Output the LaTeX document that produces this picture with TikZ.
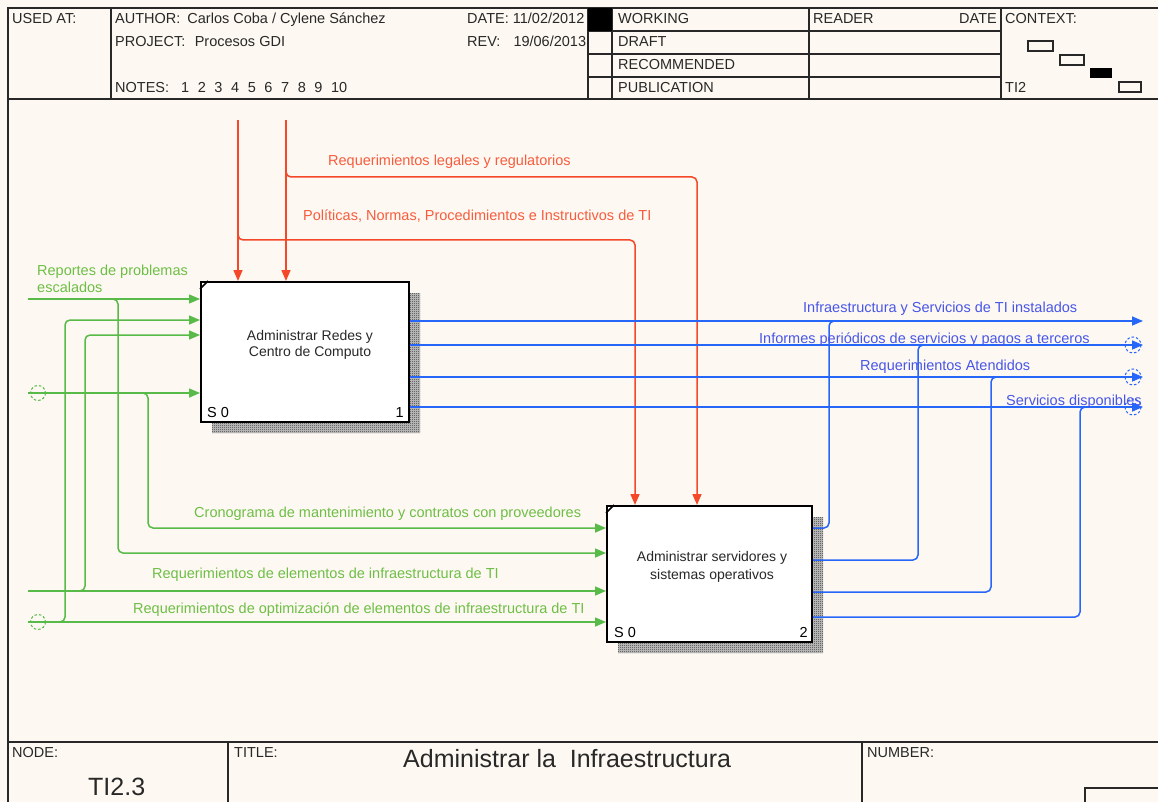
\documentclass[tikz,border=0pt]{standalone}
\usepackage{fontspec}
\setmainfont{Liberation Sans}
\usetikzlibrary{arrows.meta,patterns}

% fine checkerboard used for the activity-box shadows
\pgfdeclarepatternformonly{checker}{\pgfqpoint{0pt}{0pt}}{\pgfqpoint{2pt}{2pt}}{\pgfqpoint{2pt}{2pt}}{%
  \pgfpathrectangle{\pgfqpoint{0pt}{0pt}}{\pgfqpoint{1pt}{1pt}}%
  \pgfpathrectangle{\pgfqpoint{1pt}{1pt}}{\pgfqpoint{1pt}{1pt}}%
  \pgfusepath{fill}}

\definecolor{paper}{RGB}{253,249,242}
\definecolor{ink}{RGB}{40,40,40}
\definecolor{redline}{RGB}{244,72,40}
\definecolor{redtext}{RGB}{248,92,62}
\definecolor{greenline}{RGB}{88,186,72}
\definecolor{greentext}{RGB}{110,190,70}
\definecolor{blueline}{RGB}{38,102,248}
\definecolor{bluetext}{RGB}{72,86,232}

\newcommand\ngap{\hspace{8.6pt}}

\begin{document}
\begin{tikzpicture}[x=1pt,y=-1pt,
  font=\fontsize{14.5}{16}\selectfont,
  frame/.style={draw=ink,line width=1.4pt},
  thin frame/.style={draw=ink,line width=1.2pt},
  lbl/.style={anchor=base west,inner sep=0pt,text=ink},
  activity/.style={draw=black,line width=2pt,fill=white,inner sep=0pt},
  shadowbase/.style={fill=black!22},
  shadowfill/.style={pattern=checker,pattern color=black!80},
  arrowed/.style={-{Triangle[length=11pt,width=9pt]}},
  ctrl/.style={draw=redline,line width=1.5pt,rounded corners=5pt},
  inp/.style={draw=greenline,line width=1.5pt,rounded corners=5pt},
  outp/.style={draw=blueline,line width=1.5pt,rounded corners=5pt},
  tunnel/.style={dash pattern=on 2.5pt off 2pt,line width=1pt},
  redlbl/.style={lbl,text=redtext},
  greenlbl/.style={lbl,text=greentext},
  bluelbl/.style={lbl,text=bluetext}]

\useasboundingbox (0,0) rectangle (1158,802);
\fill[paper] (0,0) rectangle (1158,802);

% ---------- sheet frame and header ----------
\draw[frame] (8,802) -- (8,8) -- (1158,8);
\draw[frame] (8,99) -- (1158,99);
\draw[frame] (8,742) -- (1158,742);
\foreach \xx in {111,588,612,809,1001} \draw[frame] (\xx,8) -- (\xx,99);
\foreach \yy in {31,54,77} \draw[thin frame] (588,\yy) -- (1001,\yy);
\fill[black] (588,8) rectangle (612,31);

\node[lbl] (usedat) at (12,24) {USED AT:};
\node[lbl] (author) at (115,24) {AUTHOR:\hspace{7pt}Carlos Coba / Cylene Sánchez};
\node[lbl] (project) at (115,47) {PROJECT:\hspace{9.5pt}Procesos GDI};
\node[lbl] (notes) at (115,93) {NOTES:\hspace{12pt}1\ngap2\ngap3\ngap4\ngap5\ngap6\ngap7\ngap8\ngap9\ngap10};
\node[lbl] (date) at (467,24) {DATE: 11/02/2012};
\node[lbl] (rev) at (467,47) {REV:\hspace{13pt}19/06/2013};
\node[lbl] (working) at (618,24) {WORKING};
\node[lbl] (draft) at (618,47) {DRAFT};
\node[lbl] (recom) at (618,70) {RECOMMENDED};
\node[lbl] (publ) at (618,93) {PUBLICATION};
\node[lbl] (reader) at (813,24) {READER};
\node[lbl,anchor=base east] (rdate) at (997,24) {DATE};
\node[lbl] (context) at (1005,24) {CONTEXT:};
\node[lbl] (ctxnode) at (1005,93) {TI2};

% context thumbnail
\draw[thin frame] (1028,41) rectangle (1053,51);
\draw[thin frame] (1060,55) rectangle (1084,65);
\fill[black] (1090,68) rectangle (1112,78);
\draw[thin frame] (1119,82) rectangle (1141,92);

% ---------- footer ----------
\draw[frame] (228,742) -- (228,802);
\draw[frame] (862,742) -- (862,802);
\draw[frame] (1085,802) -- (1085,788) -- (1158,788);
\node[lbl] (nodelbl) at (12,757) {NODE:};
\node[lbl] (titlelbl) at (234,757) {TITLE:};
\node[lbl] (numberlbl) at (867,757) {NUMBER:};
\node[lbl,font=\fontsize{25}{28}\selectfont] (nodeid) at (88,795) {TI2.3};
\node[lbl,font=\fontsize{25}{28}\selectfont] (title) at (403,767) {Administrar la\ \ Infraestructura};

% ---------- activity boxes ----------
\foreach \sty in {shadowbase,shadowfill}{
  \fill[\sty] (409,293) -- (420,293) -- (420,433) -- (212,433) -- (212,422) -- (409,422) -- cycle;
  \fill[\sty] (812,517) -- (823,517) -- (823,653) -- (618,653) -- (618,642) -- (812,642) -- cycle;
}

\node[activity,minimum width=208pt,minimum height=140pt] (b1) at (305,352) {};
\node[activity,minimum width=205pt,minimum height=136pt] (b2) at (709.5,574) {};
\draw[line width=1.5pt] ([shift={(0,8)}]b1.north west) -- ([shift={(8,0)}]b1.north west);
\draw[line width=1.5pt] ([shift={(0,8)}]b2.north west) -- ([shift={(8,0)}]b2.north west);

\node[align=center,text=ink,inner sep=0pt,font=\fontsize{14}{16}\selectfont] (b1text) at (310,345) {Administrar Redes y\\Centro de Computo};
\node[align=center,text=ink,inner sep=0pt,font=\fontsize{14}{18}\selectfont] (b2text) at (712,567) {Administrar servidores y\\sistemas operativos};
\node[lbl,text=black] (b1cost) at (207,417) {S 0};
\node[lbl,text=black,anchor=base east] (b1num) at (404,417) {1};
\node[lbl,text=black] (b2cost) at (614,637) {S 0};
\node[lbl,text=black,anchor=base east] (b2num) at (808,637) {2};

% ---------- free arrow ends ----------
\coordinate (c1) at (238,120);
\coordinate (c2) at (286,120);
\coordinate (i1) at (28,299);
\coordinate (i2) at (28,393);
\coordinate (i3) at (28,591);
\coordinate (i4) at (28,622);
\coordinate (o1) at (1143,321);
\coordinate (o2) at (1143,345);
\coordinate (o3) at (1143,377);
\coordinate (o4) at (1143,407);

% ---------- controls ----------
\draw[ctrl,arrowed] (c1) -- (c1 |- b1.north);
\draw[ctrl,arrowed] (c2) -- (c2 |- b1.north);
\draw[ctrl,arrowed] (238,232) -- (238,240) -- (635,240) -- (b2.north -| 635,0);
\draw[ctrl,arrowed] (286,169) -- (286,177) -- (697,177) -- (b2.north -| 697,0);
\node[redlbl] (legal) at (328,166) {Requerimientos legales y regulatorios};
\node[redlbl] (polit) at (303,221) {Políticas, Normas, Procedimientos e Instructivos de TI};

% ---------- inputs ----------
\draw[inp,arrowed] (i1) -- (i1 -| b1.west);
\draw[inp,arrowed] (110,299) -- (118,299) -- (118,553) -- (b2.west |- 0,553);
\draw[inp,arrowed] (i2) -- (i2 -| b1.west);
\draw[inp,arrowed] (140,393) -- (148,393) -- (148,528) -- (b2.west |- 0,528);
\draw[inp,arrowed] (i3) -- (i3 -| b2.west);
\draw[inp,arrowed] (77,591) -- (85,591) -- (85,335) -- (b1.west |- 0,335);
\draw[inp,arrowed] (i4) -- (i4 -| b2.west);
\draw[inp,arrowed] (57,622) -- (65,622) -- (65,320) -- (b1.west |- 0,320);
\draw[tunnel,draw=greenline] (38,393) circle[radius=7.5];
\draw[tunnel,draw=greenline] (38,622) circle[radius=7.5];

\node[greenlbl] (rep1) at (37,275) {Reportes de problemas};
\node[greenlbl] (rep2) at (37,292) {escalados};
\node[greenlbl] (crono) at (194,517) {Cronograma de mantenimiento y contratos con proveedores};
\node[greenlbl] (reqel) at (152,578) {Requerimientos de elementos de infraestructura de TI};
\node[greenlbl] (reqopt) at (133,613) {Requerimientos de optimización de elementos de infraestructura de TI};

% ---------- outputs ----------
\draw[outp,arrowed] (b1.east |- 0,321) -- (o1);
\draw[outp,arrowed] (b1.east |- 0,345) -- (o2);
\draw[outp,arrowed] (b1.east |- 0,377) -- (o3);
\draw[outp,arrowed] (b1.east |- 0,407) -- (o4);
\draw[outp] (b2.east |- 0,528) -- (829,528) -- (829,321) -- (837,321);
\draw[outp] (b2.east |- 0,560) -- (918,560) -- (918,345) -- (926,345);
\draw[outp] (b2.east |- 0,592) -- (991,592) -- (991,377) -- (999,377);
\draw[outp] (b2.east |- 0,617) -- (1080,617) -- (1080,407) -- (1088,407);
\foreach \o in {o2,o3,o4} \draw[tunnel,draw=blueline] ([shift={(-10,0)}]\o) circle[radius=8];

\node[bluelbl] (infra) at (803,312) {Infraestructura y Servicios de TI instalados};
\node[bluelbl] (informes) at (759,343) {Informes periódicos de servicios y pagos a terceros};
\node[bluelbl] (reqat) at (860,370) {Requerimientos Atendidos};
\node[bluelbl] (servd) at (1006,405) {Servicios disponibles};
\end{tikzpicture}
\end{document}
